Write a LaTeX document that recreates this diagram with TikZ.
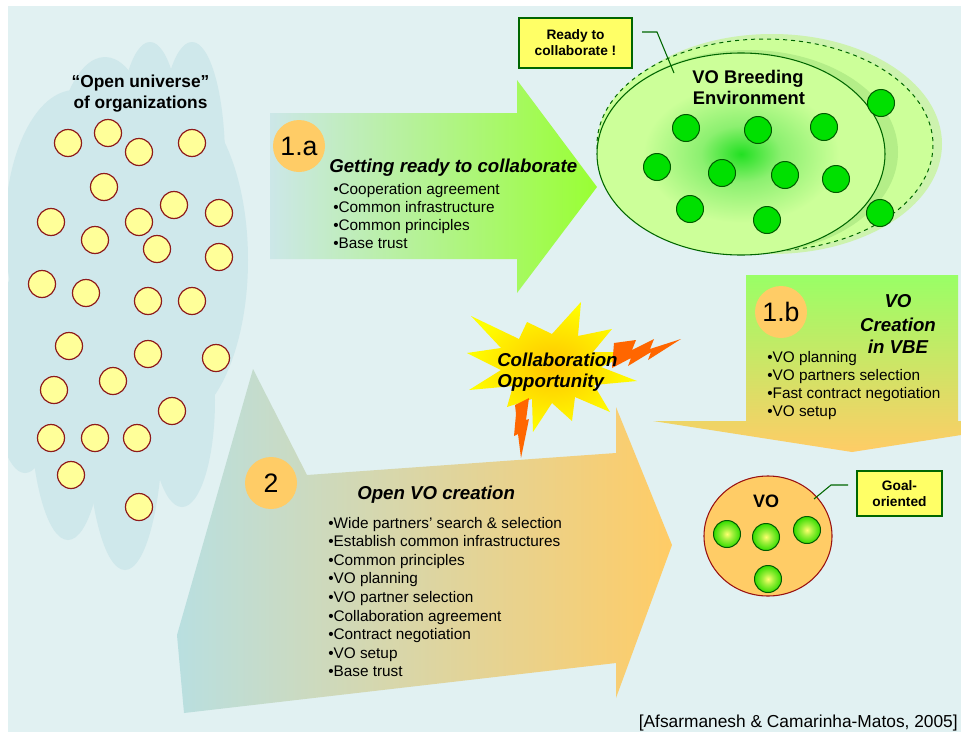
\documentclass[tikz,border=0pt]{standalone}
\usepackage{fontspec}
\setmainfont{Liberation Sans}
\usetikzlibrary{shapes.geometric}

% palette
\definecolor{bgcol}{HTML}{E1F1F2}
\definecolor{cloudcol}{HTML}{CFE8EB}
\definecolor{orgfill}{HTML}{FFFF99}
\definecolor{orgline}{HTML}{8E1B1B}
\definecolor{badgecol}{HTML}{FFCC66}
\definecolor{memfill}{HTML}{00E000}
\definecolor{memline}{HTML}{005A00}
\definecolor{darkgreen}{HTML}{006600}
\definecolor{notefill}{HTML}{FFFF66}
\definecolor{tealstart}{HTML}{CCE7E8}
\definecolor{mintmid}{HTML}{B6F0B4}
\definecolor{limeend}{HTML}{99FF33}
\definecolor{tealtwo}{HTML}{B9DFE0}
\definecolor{peach}{HTML}{FFCC66}
\definecolor{lightlime}{HTML}{99FF66}
\definecolor{vbecore}{HTML}{22E022}
\definecolor{vbemid}{HTML}{8CF070}
\definecolor{vbeedge}{HTML}{CCFF99}
\definecolor{vbeband}{HTML}{B4EE88}
\definecolor{vbehalo}{HTML}{CDF3AE}
\definecolor{boltcol}{HTML}{FF6600}
\definecolor{starcore}{HTML}{FFC400}
\definecolor{starrim}{HTML}{FFFF00}
\definecolor{vorim}{HTML}{991111}
\definecolor{ballcore}{HTML}{FFFF70}
\definecolor{ballrim}{HTML}{33DD00}
\colorlet{ballmid}{ballcore!55!ballrim}

\pgfdeclareradialshading{vbeglow}{\pgfpoint{0bp}{0bp}}{%
  color(0bp)=(vbecore); color(7bp)=(vbemid); color(17bp)=(vbeedge); color(50bp)=(vbeedge)}
\pgfdeclareradialshading{voball}{\pgfpoint{0bp}{0bp}}{%
  color(0bp)=(ballcore); color(10bp)=(ballmid); color(25bp)=(ballrim); color(50bp)=(ballrim)}

\tikzset{
  orgdot/.style={circle, draw=orgline, fill=orgfill, line width=0.9pt,
    minimum size=20.25pt, inner sep=0pt},
  memberdot/.style={circle, draw=memline, fill=memfill, line width=0.75pt,
    minimum size=20.25pt, inner sep=0pt},
  voballdot/.style={circle, draw=memline, line width=0.75pt, shade, shading=voball,
    minimum size=20.25pt, inner sep=0pt},
  stepbadge/.style={circle, fill=badgecol, minimum size=39pt, inner sep=0pt,
    font=\fontsize{20pt}{24pt}\selectfont},
  notebox/.style={draw=darkgreen, line width=1pt, fill=notefill, inner sep=0pt,
    align=center, font=\bfseries\fontsize{10.3pt}{12pt}\selectfont},
  leader/.style={draw=darkgreen, line width=0.8pt},
  listline/.style={anchor=base west, inner sep=0pt,
    font=\fontsize{11.5pt}{14pt}\selectfont},
  headtext/.style={inner sep=0pt, font=\bfseries\itshape\fontsize{14pt}{17pt}\selectfont},
  titletext/.style={inner sep=0pt, anchor=base, font=\bfseries\fontsize{13.5pt}{16pt}\selectfont},
  boltshape/.style={fill=boltcol},
}

\begin{document}
\begin{tikzpicture}[x=0.75pt, y=-0.75pt]
\useasboundingbox (0,0) rectangle (961,732);
\fill[white] (0,0) rectangle (961,732);
\fill[bgcol] (8,6) rectangle (961,732);

\begin{scope}
\clip (8,6) rectangle (961,732);

% ---- open universe cloud ----
\begin{scope}[fill=cloudcol]
  \fill (105,180) ellipse [x radius=52, y radius=123];
  \fill (150,160) ellipse [x radius=33, y radius=118];
  \fill (192,160) ellipse [x radius=33, y radius=118];
  \fill (75,230)  ellipse [x radius=70, y radius=140];
  \fill (170,260) ellipse [x radius=78, y radius=165];
  \fill (182,400) ellipse [x radius=33, y radius=107];
  \fill (125,420) ellipse [x radius=38, y radius=150];
  \fill (68,400)  ellipse [x radius=38, y radius=140];
  \fill (25,370)  ellipse [x radius=32, y radius=103];
  \fill (120,300) ellipse [x radius=110, y radius=180];
\end{scope}

\foreach \px/\py [count=\i] in {68/143,108/133,139/152,192/143,104/187,51/222,
    95/240,139/222,174/205,219/213,157/249,219/257,42/284,86/293,148/301,
    192/301,69/346,148/354,216/358,54/390,113/381,172/411,51/438,95/438,
    137/438,71/475,139/507}
  \node[orgdot] (org\i) at (\px,\py) {};

\node[titletext, font=\bfseries\fontsize{13pt}{16pt}\selectfont] (uni1) at (140.5,87) {“Open universe”};
\node[titletext, font=\bfseries\fontsize{13pt}{16pt}\selectfont] (uni2) at (140.5,108) {of organizations};

% ---- arrow 1.a ----
\shade[left color=tealstart, middle color=mintmid, right color=limeend]
  (270,113) -- (517,113) -- (517,80) -- (597,187) -- (517,293) -- (517,259)
  -- (270,259) -- cycle;

% ---- arrow 2 ----
\shade[left color=tealtwo, right color=peach]
  (253,369) -- (307,475) -- (616,453) -- (616,407) -- (672,545) -- (616,698)
  -- (616,663) -- (184,713) -- (177,635) -- cycle;

% ---- arrow 1.b ----
\shade[top color=lightlime, bottom color=peach]
  (746,275) -- (958,275) -- (958,421) -- (1051,421) -- (852,452) -- (653,421)
  -- (746,421) -- cycle;

% ---- VO breeding environment ----
\fill[vbehalo] (772,144) ellipse [x radius=170, y radius=110];
\filldraw[fill=vbeedge, draw=darkgreen, dashed, line width=0.75pt]
  (765,145) ellipse [x radius=168, y radius=106];
\fill[vbeband] (748,152) ellipse [x radius=150, y radius=102];
\shadedraw[shading=vbeglow, draw=darkgreen, line width=0.8pt]
  (741,154) ellipse [x radius=144, y radius=101];

\foreach \px/\py [count=\i] in {686/128,758/130,824/127,657/167,722/173,
    785/175,836/179,690/209,767/220,881/103,880/213}
  \node[memberdot] (mem\i) at (\px,\py) {};

\node[titletext, font=\bfseries\fontsize{13.75pt}{16pt}\selectfont] (vbe1) at (748,83) {VO Breeding};
\node[titletext, font=\bfseries\fontsize{13.75pt}{16pt}\selectfont] (vbe2) at (749,104) {Environment};

\node[notebox, minimum width=84.75pt, minimum height=37.5pt] (ready) at (575.5,43)
  {Ready to\\collaborate !};
\coordinate (r1) at (642,32);
\coordinate (r2) at (657,32);
\coordinate (r3) at (674,73);
\draw[leader] (r1) -- (r2) -- (r3);

% ---- collaboration opportunity burst ----
\shade[inner color=starcore, outer color=starrim]
  (471,316) -- (519,339) -- (527,322) -- (552,334) -- (581,302) -- (578,336)
  -- (612,329) -- (593,352) -- (633,352) -- (601,367) -- (637,381) -- (594,385)
  -- (610,412) -- (575,397) -- (572,421) -- (552,403) -- (533,432) -- (532,399)
  -- (507,407) -- (513,386) -- (469,390) -- (501,370) -- (467,353) -- (501,348)
  -- cycle;

\fill[boltshape] (614,343) -- (636,340) -- (632,350) -- (654,339) -- (650,349)
  -- (681,339) -- (648,360) -- (651,352) -- (628,366) -- (631,358) -- (612,368)
  -- cycle;
\fill[boltshape] (515,405) -- (529,398) -- (526,420) -- (529,419) -- (521,458)
  -- (518,434) -- (514,436) -- (516,414) -- cycle;

\node[headtext, anchor=base west] (opp1) at (497,366) {Collaboration};
\node[headtext, anchor=base west] (opp2) at (497,387) {Opportunity};

% ---- goal-oriented VO ----
\node[ellipse, draw=vorim, fill=badgecol, line width=0.8pt, minimum width=96pt,
  minimum height=90pt, inner sep=0pt] (vo) at (768,536) {};
\node[titletext] (votext) at (766,507) {VO};
\foreach \px/\py [count=\i] in {727/534,766/537,807/530,768/579}
  \node[voballdot] (ball\i) at (\px,\py) {};

\node[notebox, minimum width=63.75pt, minimum height=33.75pt] (goal) at (899.5,493.5)
  {Goal-\\oriented};
\coordinate (g1) at (814,499);
\coordinate (g2) at (831,485);
\coordinate (g3) at (848,485);
\draw[leader] (g1) -- (g2) -- (g3);

% ---- step badges and texts ----
\node[stepbadge] (b1a) at (299,146) {1.a};
\node[headtext, anchor=base west] (h1a) at (329,172) {Getting ready to collaborate};
\foreach \t [count=\k from 0] in {{•Cooperation agreement},{•Common infrastructure},
    {•Common principles},{•Base trust}}
  \node[listline] (la\k) at (333,194+18.2*\k) {\t};

\node[stepbadge] (b1b) at (781,312) {1.b};
\node[headtext, anchor=base] (h1b1) at (898,307) {VO};
\node[headtext, anchor=base] (h1b2) at (898,331) {Creation};
\node[headtext, anchor=base] (h1b3) at (898,353) {in VBE};
\foreach \t [count=\k from 0] in {{•VO planning},{•VO partners selection},
    {•Fast contract negotiation},{•VO setup}}
  \node[listline] (lb\k) at (767,362+18.3*\k) {\t};

\node[stepbadge] (b2) at (271,483) {2};
\node[headtext, anchor=base west] (h2) at (357,499) {Open VO creation};
\foreach \t [count=\k from 0] in {{•Wide partners’ search \& selection},
    {•Establish common infrastructures},{•Common principles},{•VO planning},
    {•VO partner selection},{•Collaboration agreement},{•Contract negotiation},
    {•VO setup},{•Base trust}}
  \node[listline] (lc\k) at (328,528+18.6*\k) {\t};

\node[inner sep=0pt, anchor=base east, font=\fontsize{13pt}{16pt}\selectfont] (cite)
  at (958,727) {[Afsarmanesh \& Camarinha-Matos, 2005]};
\end{scope}
\end{tikzpicture}
\end{document}
